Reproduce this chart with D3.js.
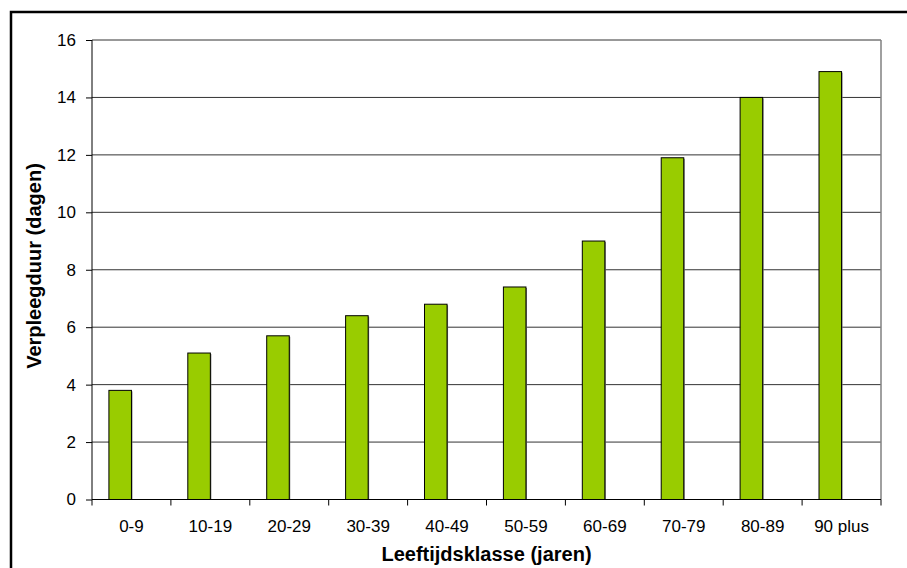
<!DOCTYPE html>
<html><head><meta charset="utf-8">
<script src="https://cdn.jsdelivr.net/npm/d3@7"></script>
<style>body{margin:0;background:#fff}svg{display:block}text{font-family:"Liberation Sans",Arial,sans-serif}</style>
</head><body><svg id="c" width="907" height="568"></svg>
<script>
const categories = ["0-9","10-19","20-29","30-39","40-49","50-59","60-69","70-79","80-89","90 plus"];
const values = [3.8,5.1,5.7,6.4,6.8,7.4,9.0,11.9,14.0,14.9];
const yTicks = [0,2,4,6,8,10,12,14,16];
const xTitle = "Leeftijdsklasse (jaren)";
const yTitle = "Verpleegduur (dagen)";

const svg = d3.select("#c");
const L=92, R=881, T=40, B=499.5;
// outer frame (extends beyond viewport)
svg.append("rect").attr("x",11).attr("y",12).attr("width",1000).attr("height",1000)
  .attr("fill","none").attr("stroke","#000").attr("stroke-width",2.5);

const x = d3.scaleBand().domain(categories).range([L,R]).paddingInner(0).paddingOuter(0);
const y = d3.scaleLinear().domain([0,16]).range([B,T]);

// gridlines
svg.append("g").selectAll("line").data(yTicks.slice(1)).join("line")
  .attr("x1",L).attr("x2",R).attr("y1",d=>y(d)).attr("y2",d=>y(d))
  .attr("stroke","#333").attr("stroke-width",1);
// right border
svg.append("line").attr("x1",R).attr("x2",R).attr("y1",T).attr("y2",B).attr("stroke","#808080").attr("stroke-width",1.5);

// bars: clustered layout with 2 series slots, gap 150%
const bw = x.bandwidth()/3.5;
const bars = svg.append("g");
bars.selectAll("rect.sh").data(values).join("rect").attr("class","sh")
  .attr("x",(d,i)=>x(categories[i])+0.75*bw+1).attr("y",d=>y(d)+1)
  .attr("width",bw).attr("height",d=>B-y(d)-1).attr("fill","#777");
bars.selectAll("rect.b").data(values).join("rect").attr("class","b")
  .attr("x",(d,i)=>x(categories[i])+0.75*bw).attr("y",d=>y(d))
  .attr("width",bw).attr("height",d=>B-y(d))
  .attr("fill","#99CC00").attr("stroke","#000").attr("stroke-width",1);

// y axis
const ya = svg.append("g").attr("transform",`translate(${L},0)`)
  .call(d3.axisLeft(y).tickValues(yTicks).tickSize(6).tickPadding(10).tickFormat(d3.format("d")));
ya.select(".domain").attr("stroke","#000").attr("d",`M0,${B}V${T}`);
ya.selectAll(".tick line").attr("stroke","#000");
ya.selectAll(".tick text").attr("font-size",17).attr("fill","#000").attr("font-family","Liberation Sans, Arial, sans-serif");

// x axis
const xa = svg.append("g").attr("transform",`translate(0,${B})`)
  .call(d3.axisBottom(x).tickSize(0).tickPadding(20));
xa.select(".domain").attr("stroke","#000").attr("d",`M${L},0H${R}`);
xa.selectAll(".tick text").attr("font-size",17).attr("fill","#000").attr("font-family","Liberation Sans, Arial, sans-serif");
// category boundary ticks
svg.append("g").selectAll("line").data(d3.range(categories.length+1)).join("line")
  .attr("x1",i=>L+i*x.step()).attr("x2",i=>L+i*x.step())
  .attr("y1",B).attr("y2",B+6).attr("stroke","#000");

// titles
svg.append("text").attr("x",(L+R)/2).attr("y",561).attr("text-anchor","middle")
  .attr("font-size",20).attr("font-weight","bold").text(xTitle);
svg.append("text").attr("transform",`translate(41,266) rotate(-90)`).attr("text-anchor","middle")
  .attr("font-size",20).attr("font-weight","bold").text(yTitle);
</script></body></html>
